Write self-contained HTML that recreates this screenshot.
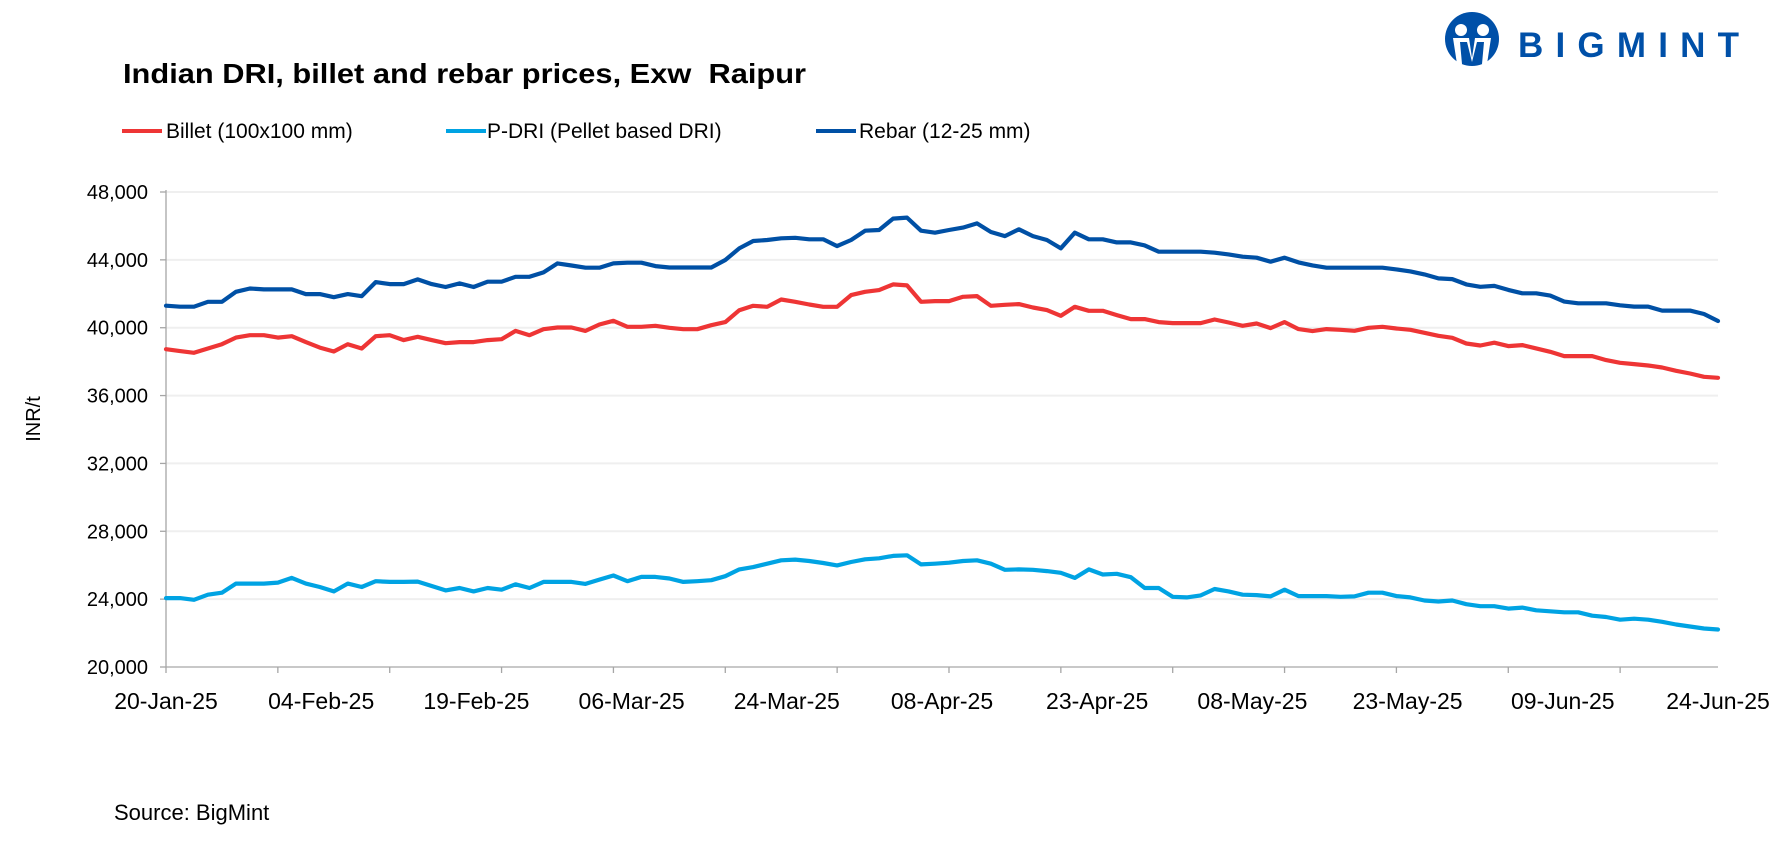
<!DOCTYPE html>
<html><head><meta charset="utf-8"><style>
html,body{margin:0;padding:0;background:#fff;}
body{width:1784px;height:848px;position:relative;overflow:hidden;font-family:"Liberation Sans",sans-serif;}
svg{position:absolute;left:0;top:0;}
</style></head><body>
<svg id="chart" width="1784" height="848">
  <text x="123" y="83" font-size="28" font-weight="bold" fill="#000" textLength="683" lengthAdjust="spacingAndGlyphs">Indian DRI, billet and rebar prices, Exw&#160; Raipur</text>
  <g>
    <g>
      <line x1="122" y1="131" x2="162" y2="131" stroke="#EE3535" stroke-width="4"/>
      <text x="166" y="138" font-size="21" fill="#000">Billet (100x100 mm)</text>
    </g>
    <g>
      <line x1="446" y1="131" x2="486" y2="131" stroke="#00A3E3" stroke-width="4"/>
      <text x="487" y="138" font-size="21" fill="#000">P-DRI (Pellet based DRI)</text>
    </g>
    <g>
      <line x1="816" y1="131" x2="856" y2="131" stroke="#0050A5" stroke-width="4"/>
      <text x="859" y="138" font-size="21" fill="#000">Rebar (12-25 mm)</text>
    </g>
  </g>
  <text transform="translate(40,419) rotate(-90)" text-anchor="middle" font-size="20" fill="#000">INR/t</text>
  <text x="114" y="820" font-size="22" fill="#000">Source: BigMint</text>
  <g>
    <circle cx="1472" cy="39" r="27" fill="#0050A8"/>
    <circle cx="1461" cy="30" r="6" fill="#fff"/>
    <circle cx="1483" cy="30" r="6" fill="#fff"/>
    <path d="M1453 38 L1469 38 L1472 58 L1475 38 L1491 38 L1487 64 L1457 64 Z" fill="#fff"/>
    <path d="M1460 42 L1467 42 L1472 62 L1477 42 L1484 42 L1482 64 L1462 64 Z" fill="#0050A8"/>
    <text x="1518" y="57" font-size="35" font-weight="bold" fill="#0050A8" textLength="221" lengthAdjust="spacing">BIGMINT</text>
  </g>
  <g id="grid"></g>
  <g id="axes"></g>
  <g id="series"></g>
</svg>
<script>
const yTicks = [20000,24000,28000,32000,36000,40000,44000,48000];
const xLabels = ["20-Jan-25","04-Feb-25","19-Feb-25","06-Mar-25","24-Mar-25","08-Apr-25","23-Apr-25","08-May-25","23-May-25","09-Jun-25","24-Jun-25"];
const billet = [38735,38620,38520,38775,39030,39420,39560,39560,39420,39500,39150,38830,38600,39030,38775,39500,39560,39270,39465,39270,39090,39150,39150,39270,
39325,39815,39560,39915,40015,40015,39815,40190,40410,40055,40055,40110,39995,39915,39915,40150,40330,41035,41290,41230,41665,41530,41370,41230,41230,
41922,42119,42217,42551,42492,41529,41568,41568,41824,41863,41293,41352,41391,41194,41037,40702,41234,40997,40997,40742,40506,40506,40329,40270,40270,
40270,40486,40309,40113,40250,39975,40329,39916,39798,39916,39876,39817,39994,40053,39955,39876,39699,39522,39404,39070,38952,
39114,38917,38976,38780,38583,38326,38326,38326,38090,37932,37854,37775,37657,37460,37302,37105,37046];
const pdri = [24060,24060,23960,24260,24380,24915,24915,24915,24975,25254,24915,24717,24458,24915,24717,25055,25015,25015,25035,24776,24518,24657,24458,24657,24558,24876,24657,25015,
25015,25015,24896,25154,25393,25055,25313,25313,25214,25015,25055,25115,25353,25751,25891,26090,26289,26328,26249,26130,25990,26189,26348,26408,26547,26587,26050,26090,
26150,26249,26289,26090,25731,25751,25731,25652,25552,25254,25751,25453,25493,25294,24657,24657,24140,24100,24219,24597,24458,24259,24239,24159,24557,24179,24179,24179,
24140,24159,24378,24378,24179,24100,23920,23861,23920,23702,23582,23582,23443,23503,23343,23284,23224,23224,23025,22945,22786,22846,22786,22667,22508,22388,22269,22209];
const rebar = [41300,41240,41240,41530,41530,42120,42310,42260,42260,42260,41980,41980,41800,41980,41860,42690,42570,42570,42850,42570,42400,42610,42400,42710,
42710,43000,43000,43260,43790,43670,43535,43535,43790,43830,43830,43630,43550,43550,43550,43550,43990,44680,45110,45170,45270,45300,45210,45210,44810,
45170,45720,45760,46430,46490,45720,45600,45760,45900,46150,45640,45400,45800,45400,45170,44680,45600,45210,45210,45030,45030,44850,44480,44480,44480,
44480,44420,44322,44184,44125,43889,44125,43850,43673,43535,43535,43535,43535,43535,43437,43319,43142,42906,42866,42551,42414,
42463,42227,42030,42030,41892,41538,41439,41439,41439,41321,41242,41242,41006,41006,41006,40809,40395];

const NS='http://www.w3.org/2000/svg';
const X0=166, X1=1718, Y0=667, Y1=192, VMIN=20000, VMAX=48000;
const N = billet.length;
function xPos(i){return X0 + (X1-X0)*i/(N-1);}
function yPos(v){return Y0 - (v-VMIN)/(VMAX-VMIN)*(Y0-Y1);}
function mk(tag, attrs, parent){const e=document.createElementNS(NS,tag);for(const k in attrs)e.setAttribute(k,attrs[k]);parent.appendChild(e);return e;}
const grid=document.getElementById('grid'), axes=document.getElementById('axes'), series=document.getElementById('series');

yTicks.forEach(v=>{
  const y=yPos(v);
  if(v!==VMIN){
    const g=mk('line',{x1:X0,x2:X1,y1:y,y2:y,stroke:'#EFEFEF','stroke-width':2},grid);
    
    
  }
  const tk=mk('line',{x1:X0-6,x2:X0,y1:y,y2:y,stroke:'#A6A6A6','stroke-width':1.3},axes);
  
  
  const t=mk('text',{x:148,y:y+7,'text-anchor':'end','font-size':20,fill:'#000'},axes);
  t.textContent=v.toLocaleString('en-US');
  
  
});
const ya=mk('line',{x1:X0,x2:X0,y1:Y1-2,y2:Y0+6,stroke:'#A6A6A6','stroke-width':1.3},axes);


const xa=mk('line',{x1:X0,x2:X1,y1:Y0,y2:Y0,stroke:'#A6A6A6','stroke-width':1.3},axes);


for(let i=8;i<N;i+=8){
  const tk=mk('line',{x1:xPos(i),x2:xPos(i),y1:Y0,y2:Y0+6,stroke:'#A6A6A6','stroke-width':1.3},axes);
  
  
}
xLabels.forEach((s,k)=>{
  const x=X0+(X1-X0)*k/(xLabels.length-1);
  const t=mk('text',{x:x,y:709,'text-anchor':'middle','font-size':23,fill:'#000'},axes);
  t.textContent=s;
  
  
});
function drawLine(arr,color,name){
  const d=arr.map((v,i)=>(i?'L':'M')+xPos(i).toFixed(1)+' '+yPos(v).toFixed(1)).join(' ');
  const p=mk('path',{d:d,fill:'none',stroke:color,'stroke-width':4.2,'stroke-linejoin':'round','stroke-linecap':'round'},series);
  
  
}
drawLine(billet,'#EE3535','billet-line');
drawLine(pdri,'#00A3E3','pdri-line');
drawLine(rebar,'#0050A5','rebar-line');
</script>
</body></html>
